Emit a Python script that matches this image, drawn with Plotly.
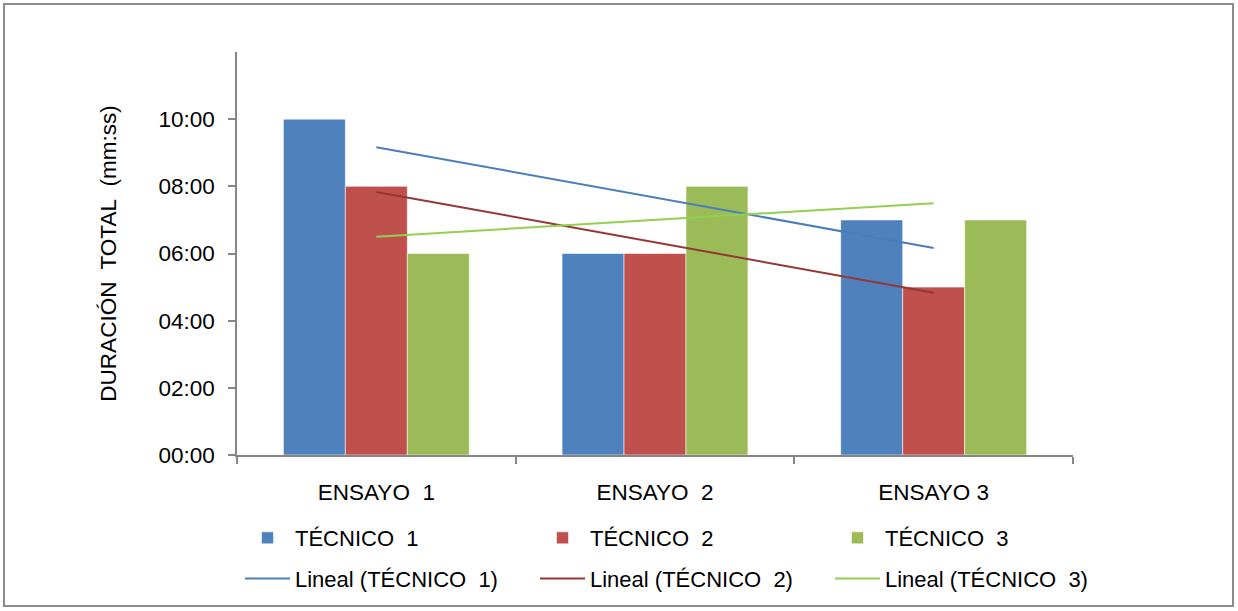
import numpy as np
import plotly.graph_objects as go

# Trials (x categories) and total duration per technician, in minutes
ensayos = ["ENSAYO\u00a0 1", "ENSAYO\u00a0 2", "ENSAYO 3"]
tecnicos = ["TÉCNICO\u00a0 1", "TÉCNICO\u00a0 2", "TÉCNICO\u00a0 3"]
tecnico_1 = [10, 6, 7]
tecnico_2 = [8, 6, 5]
tecnico_3 = [6, 8, 7]

y_tick_minutes = [0, 2, 4, 6, 8, 10]
y_tick_labels = ["00:00", "02:00", "04:00", "06:00", "08:00", "10:00"]

bar_colors = ["#4F81BD", "#C0504D", "#9BBB59"]
trend_colors = ["#4A7EBB", "#953735", "#92D050"]
legends = ["legend", "legend2", "legend3"]

FONT = "Liberation Sans, Arial, sans-serif"
FS_AXIS = 22.5
FS_LEGEND = 22

series = [tecnico_1, tecnico_2, tecnico_3]
fig = go.Figure()

for i, (name, vals) in enumerate(zip(tecnicos, series)):
    fig.add_trace(go.Bar(
        x=ensayos, y=vals, name=name,
        marker=dict(color=bar_colors[i],
                    line=dict(color="rgba(255,255,255,0.55)", width=1)),
        legend=legends[i], legendgroup=f"b{i}",
    ))

# Linear trend of each technician across the trials
xi = np.arange(1, len(ensayos) + 1)
for i, (name, vals) in enumerate(zip(tecnicos, series)):
    slope, intercept = np.polyfit(xi, vals, 1)
    fit = slope * xi + intercept
    fig.add_trace(go.Scatter(
        x=[ensayos[0], ensayos[-1]], y=[fit[0], fit[-1]],
        mode="lines", name=f"Lineal ({name})",
        line=dict(color=trend_colors[i], width=2),
        legend=legends[i], legendgroup=f"l{i}",
    ))

W, H = 1238, 611
L, R, T, B = 237, 165, 52, 156
pw, ph = W - L - R, H - T - B


def px_x(p):
    return (p - L) / pw


def px_y(p):
    return (H - B - p) / ph


legend_common = dict(
    orientation="v", xanchor="left", yanchor="top",
    font=dict(family=FONT, size=FS_LEGEND, color="#000000"),
    bgcolor="rgba(0,0,0,0)", borderwidth=0,
    itemwidth=45, tracegroupgap=9, traceorder="grouped",
)
layout_legends = {}
for i, lg in enumerate(legends):
    layout_legends[lg] = dict(legend_common, x=px_x(240 + 295 * i), y=px_y(517))

fig.update_layout(
    width=W, height=H,
    margin=dict(l=L, r=R, t=T, b=B, autoexpand=False),
    paper_bgcolor="white", plot_bgcolor="white",
    font=dict(family=FONT, size=FS_AXIS, color="#000000"),
    barmode="group", bargap=0.333, bargroupgap=0,
    showlegend=True,
    xaxis=dict(
        type="category", tickson="boundaries",
        ticks="outside", ticklen=7, tickwidth=1.5, tickcolor="#868686",
        showline=True, linecolor="#868686", linewidth=1.5,
        showgrid=False, zeroline=False,
        ticklabelstandoff=16,
        tickfont=dict(family=FONT, size=FS_AXIS, color="#000000"),
    ),
    yaxis=dict(
        range=[0, 12], tickvals=y_tick_minutes, ticktext=y_tick_labels,
        ticks="outside", ticklen=7, tickwidth=1.5, tickcolor="#868686",
        showline=True, linecolor="#868686", linewidth=1.5,
        showgrid=False, zeroline=False,
        ticklabelstandoff=9,
        tickfont=dict(family=FONT, size=FS_AXIS, color="#000000"),
        title=dict(text="DURACIÓN\u00a0 TOTAL\u00a0 (mm:ss)",
                   font=dict(family=FONT, size=FS_AXIS, color="#000000"),
                   standoff=36),
    ),
    shapes=[dict(
        type="rect", xref="paper", yref="paper",
        x0=px_x(4), x1=px_x(1233), y0=px_y(606), y1=px_y(4),
        line=dict(color="#8C8C8C", width=2), fillcolor="rgba(0,0,0,0)",
        layer="below",
    )],
    **layout_legends,
)

fig.write_html("out.html")
